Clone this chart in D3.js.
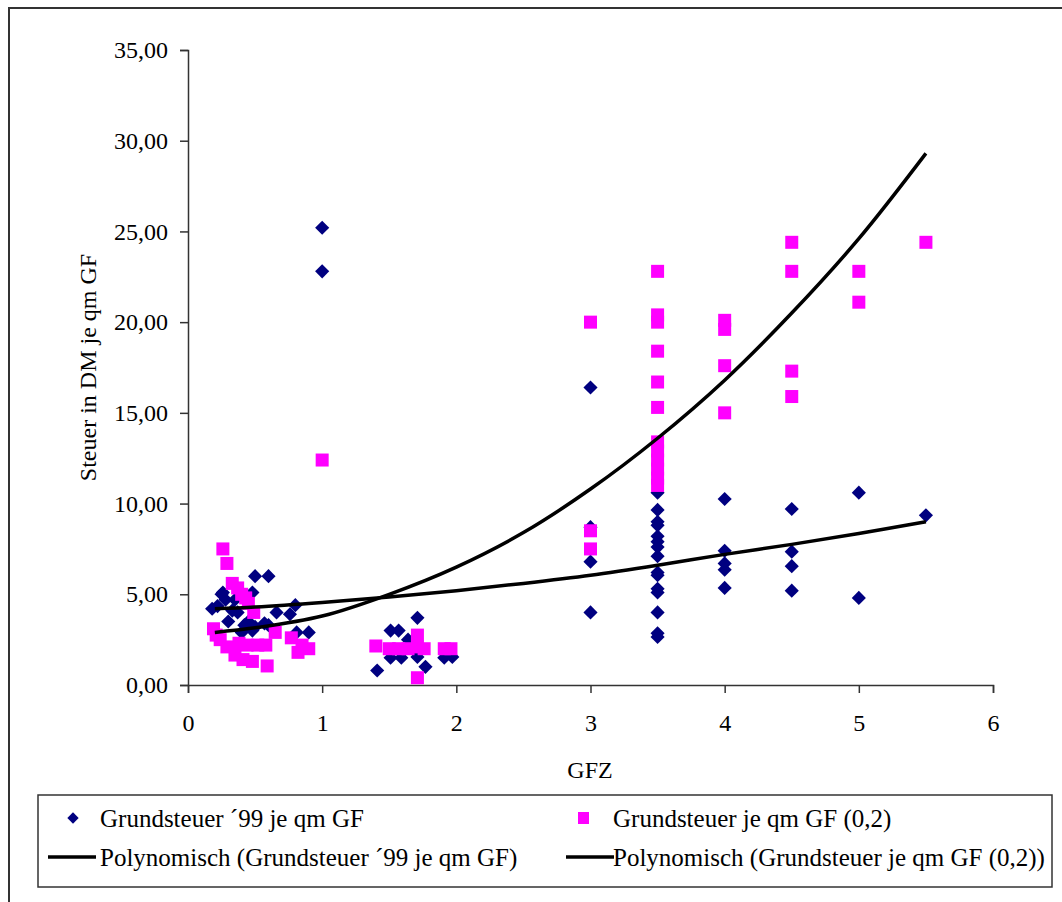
<!DOCTYPE html>
<html>
<head>
<meta charset="utf-8">
<script src="https://cdn.jsdelivr.net/npm/d3@7"></script>
<style>
  body { margin: 0; background: #fff; }
  svg text { font-family: "Liberation Serif", "Times New Roman", serif; fill: #000; }
</style>
</head>
<body>
<svg id="chart" width="1062" height="902"></svg>
<script>
/* ******************** data ******************************************** */
// Grundsteuer '99 je qm GF (navy diamonds)
var gfz99 = [0.18,0.22,0.25,0.26,0.28,0.30,0.33,0.35,0.37,0.40,0.42,0.45,0.48,0.48,0.50,0.50,0.57,0.60,0.60,0.66,0.76,0.80,0.81,0.90,
             1,1,
             1.41,1.51,1.51,1.57,1.59,1.64,1.71,1.71,1.77,1.91,1.97,
             3,3,3,3,
             3.5,3.5,3.5,3.5,3.5,3.5,3.5,3.5,3.5,3.5,3.5,3.5,3.5,3.5,3.5,
             4,4,4,4,4,
             4.5,4.5,4.5,4.5,
             5,5,
             5.5];
var steuer99 = [4.2,4.35,5.0,5.1,4.7,3.5,4.1,4.7,4.0,2.9,3.3,3.5,3.0,5.1,6.0,3.2,3.4,6.0,3.3,4.0,3.9,4.4,2.9,2.9,
                25.2,22.8,
                0.8,3.0,1.5,3.0,1.5,2.5,3.7,1.55,1.0,1.5,1.55,
                16.4,8.7,6.8,4.0,
                10.6,9.65,9.0,8.8,8.2,7.9,7.6,7.1,6.2,6.05,5.3,5.1,4.0,2.85,2.65,
                10.25,7.4,6.7,6.35,5.35,
                9.7,7.35,6.55,5.2,
                10.6,4.8,
                9.35];

// Grundsteuer je qm GF (0,2) (magenta squares)
var gfz02 = [0.19,0.21,0.24,0.26,0.29,0.29,0.33,0.35,0.37,0.38,0.40,0.41,0.43,0.44,0.45,0.48,0.49,0.52,0.58,0.59,0.65,0.77,0.82,0.85,0.90,
             1,
             1.40,1.50,1.57,1.64,1.71,1.71,1.76,1.91,1.96,1.71,
             3,3,3,
             3.5,3.5,3.5,3.5,3.5,3.5,3.5,3.5,3.5,3.5,3.5,3.5,
             4,4,4,4,
             4.5,4.5,4.5,4.5,
             5,5,
             5.5];
var steuer02 = [3.1,2.75,2.5,7.5,2.1,6.7,5.6,1.65,5.35,2.3,5.0,1.4,4.8,2.2,4.5,1.3,4.0,2.2,2.2,1.05,2.9,2.6,1.8,2.2,2.0,
                12.4,
                2.15,2.0,2.0,2.0,2.75,2.1,2.0,2.0,2.0,0.4,
                20.0,8.5,7.5,
                22.8,20.4,20.0,18.4,16.7,15.3,13.4,12.9,12.4,11.9,11.4,11.0,
                20.1,19.6,17.6,15.0,
                24.4,22.8,17.3,15.9,
                22.8,21.1,
                24.4];

// polynomial trend lines as drawn in the chart
var trendGfz = [0.2,0.5,1,1.5,2,2.5,3,3.5,4,4.5,5,5.5];
var trend99  = [4.2,4.3,4.55,4.85,5.2,5.6,6.05,6.6,7.2,7.75,8.35,9.0];
var trend02  = [2.9,3.15,3.8,5.0,6.5,8.4,10.8,13.6,16.8,20.5,24.6,29.3];

var xTicks = [0,1,2,3,4,5,6];
var yTicks = [0,5,10,15,20,25,30,35];

var legendLabels = ["Grundsteuer \u00b499 je qm GF", "Grundsteuer je qm GF (0,2)",
                    "Polynomisch (Grundsteuer \u00b499 je qm GF)", "Polynomisch (Grundsteuer je qm GF (0,2))"];

/* ******************** chart settings ************************* */
var svg = d3.select("#chart");
var navy = "#000080", magenta = "#ff00ff", axisColor = "#333";
var fontSize = 24, legendFontSize = 25;

var xScale = d3.scaleLinear().domain([0, 6]).range([188, 993]);
var yScale = d3.scaleLinear().domain([0, 35]).range([685, 50]);

// outer frame (right and bottom edges run off the picture)
svg.append("rect")
   .attr("x", 9).attr("y", 8)
   .attr("width", 1200).attr("height", 1000)
   .attr("fill", "none")
   .attr("stroke", axisColor)
   .attr("stroke-width", 2);

// axes
var xAxis = d3.axisBottom(xScale).tickValues(xTicks).tickSize(8).tickPadding(21)
              .tickFormat(function(d) { return d; });
var yAxis = d3.axisLeft(yScale).tickValues(yTicks).tickSize(8).tickPadding(12)
              .tickFormat(function(d) { return d3.format(".2f")(d).replace(".", ","); });

var gx = svg.append("g")
   .attr("transform", "translate(0," + yScale(0) + ")")
   .call(xAxis);
var gy = svg.append("g")
   .attr("transform", "translate(" + xScale(0) + ",0)")
   .call(yAxis);

[gx, gy].forEach(function(g) {
  g.select(".domain").attr("stroke", axisColor).attr("stroke-width", 1.5);
  g.selectAll(".tick line").attr("stroke", axisColor).attr("stroke-width", 1.5);
  g.selectAll(".tick text")
   .attr("font-family", "Liberation Serif, Times New Roman, serif")
   .attr("font-size", fontSize)
   .attr("fill", "#000");
});
gx.selectAll(".tick text").attr("dy", "0.71em");

// axis titles
svg.append("text")
   .attr("x", 590).attr("y", 778)
   .attr("text-anchor", "middle")
   .attr("font-size", fontSize)
   .text("GFZ");

svg.append("text")
   .attr("transform", "translate(96," + ((yScale(0) + yScale(35)) / 2) + ") rotate(-90)")
   .attr("text-anchor", "middle")
   .attr("font-size", fontSize)
   .text("Steuer in DM je qm GF");

// series 1: navy diamonds
var diamond = d3.symbol().type(d3.symbolSquare).size(100);
svg.append("g")
   .selectAll("path")
   .data(d3.range(gfz99.length))
   .enter()
   .append("path")
     .attr("d", diamond)
     .attr("transform", function(i) {
       return "translate(" + xScale(gfz99[i]) + "," + yScale(steuer99[i]) + ") rotate(45)";
     })
     .attr("fill", navy);

// series 2: magenta squares
svg.append("g")
   .selectAll("rect")
   .data(d3.range(gfz02.length))
   .enter()
   .append("rect")
     .attr("x", function(i) { return xScale(gfz02[i]) - 6.5; })
     .attr("y", function(i) { return yScale(steuer02[i]) - 6.5; })
     .attr("width", 13).attr("height", 13)
     .attr("fill", magenta);

// trend lines
var trendLine = d3.line()
    .x(function(i) { return xScale(trendGfz[i]); })
    .curve(d3.curveCatmullRom);

[trend99, trend02].forEach(function(vals) {
  svg.append("path")
     .datum(d3.range(trendGfz.length))
     .attr("fill", "none")
     .attr("stroke", "#000")
     .attr("stroke-width", 3.5)
     .attr("stroke-linejoin", "round")
     .attr("d", trendLine.y(function(i) { return yScale(vals[i]); }));
});

// legend
var legend = svg.append("g");
legend.append("rect")
   .attr("x", 38).attr("y", 795)
   .attr("width", 1014).attr("height", 92)
   .attr("fill", "#fff")
   .attr("stroke", axisColor)
   .attr("stroke-width", 1.5);

var colX = [48, 566], rowY = [818, 857];

legend.append("path")
   .attr("d", d3.symbol().type(d3.symbolSquare).size(64))
   .attr("transform", "translate(73," + rowY[0] + ") rotate(45)")
   .attr("fill", navy);
legend.append("rect")
   .attr("x", 578).attr("y", rowY[0] - 6)
   .attr("width", 11).attr("height", 12)
   .attr("fill", magenta);

colX.forEach(function(x) {
  legend.append("line")
     .attr("x1", x).attr("x2", x + 48)
     .attr("y1", rowY[1]).attr("y2", rowY[1])
     .attr("stroke", "#000")
     .attr("stroke-width", 3.5);
});

legendLabels.forEach(function(label, i) {
  legend.append("text")
     .attr("x", i % 2 === 0 ? 100 : 613)
     .attr("y", rowY[Math.floor(i / 2)])
     .attr("dy", "0.35em")
     .attr("font-size", legendFontSize)
     .text(label);
});
</script>
</body>
</html>
